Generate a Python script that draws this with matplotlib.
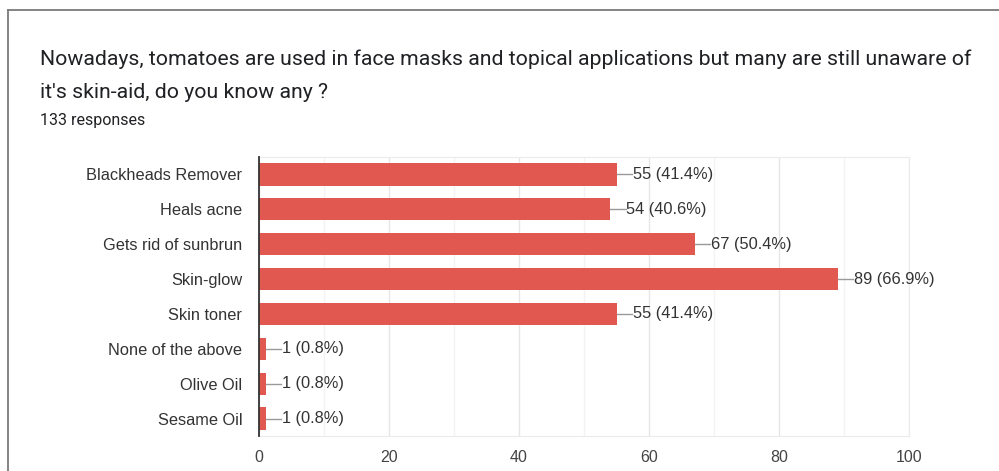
import matplotlib.pyplot as plt
from matplotlib.lines import Line2D
from matplotlib.ticker import MultipleLocator

categories = ['Blackheads Remover', 'Heals acne', 'Gets rid of sunbrun', 'Skin-glow',
              'Skin toner', 'None of the above', 'Olive Oil', 'Sesame Oil']
counts = [55, 54, 67, 89, 55, 1, 1, 1]
percents = ['41.4%', '40.6%', '50.4%', '66.9%', '41.4%', '0.8%', '0.8%', '0.8%']
xticks = [0, 20, 40, 60, 80, 100]

title_lines = ["Nowadays, tomatoes are used in face masks and topical applications but many are still unaware of",
               "it's skin-aid, do you know any ?"]
subtitle = "133 responses"

fig = plt.figure(figsize=(9.99, 4.71), dpi=100)
fig.patch.set_facecolor('white')

# outer card border (left and top only are visible)
fig.add_artist(Line2D([8 / 999, 8 / 999], [0, 1 - 10 / 471], color='#7a7a7a', lw=1.3))
fig.add_artist(Line2D([8 / 999, 1], [1 - 10 / 471, 1 - 10 / 471], color='#7a7a7a', lw=1.3))

fig.text(40 / 999, 1 - 65 / 471, title_lines[0], fontsize=15.3, family='Roboto',
         color='#202124', va='baseline', ha='left')
fig.text(40 / 999, 1 - 98 / 471, title_lines[1], fontsize=15.3, family='Roboto',
         color='#202124', va='baseline', ha='left')
fig.text(40 / 999, 1 - 125 / 471, subtitle, fontsize=11.5, family='Roboto', color='#202124',
         va='baseline', ha='left')

ax = fig.add_axes([259 / 999, 1 - 436 / 471, 650 / 999, 279 / 471])
y = list(range(len(categories)))
ax.barh(y, counts, height=0.64, color='#e0584f', zorder=3)
ax.set_ylim(len(categories) - 0.5, -0.5)
ax.set_xlim(0, 100)
ax.set_yticks(y)
ax.set_yticklabels(categories, fontsize=11.8, family='Liberation Sans', color='#333333')
ax.set_xticks(xticks)
ax.set_xticklabels([str(t) for t in xticks], fontsize=11.5, family='Liberation Sans', color='#444444')
ax.xaxis.set_minor_locator(MultipleLocator(10))
ax.tick_params(axis='both', which='both', length=0)
ax.tick_params(axis='y', pad=12)
ax.tick_params(axis='x', pad=10)
ax.grid(axis='x', which='major', color='#e6e6e6', lw=1, zorder=0)
ax.grid(axis='x', which='minor', color='#f3f3f3', lw=1, zorder=0)
for side in ['top', 'right', 'bottom']:
    ax.spines[side].set_color('#ebebeb')
ax.spines['left'].set_color('#333333')
ax.spines['left'].set_linewidth(1.3)
ax.spines['left'].set_zorder(4)

for yi, c, p in zip(y, counts, percents):
    ax.plot([c, c + 2.4], [yi, yi], color='#999999', lw=1, zorder=4, clip_on=False)
    ax.text(c + 2.5, yi, f'{c} ({p})', fontsize=11.8, family='Liberation Sans',
            color='#333333', va='center', ha='left')

fig.savefig('out.png', dpi=100)
